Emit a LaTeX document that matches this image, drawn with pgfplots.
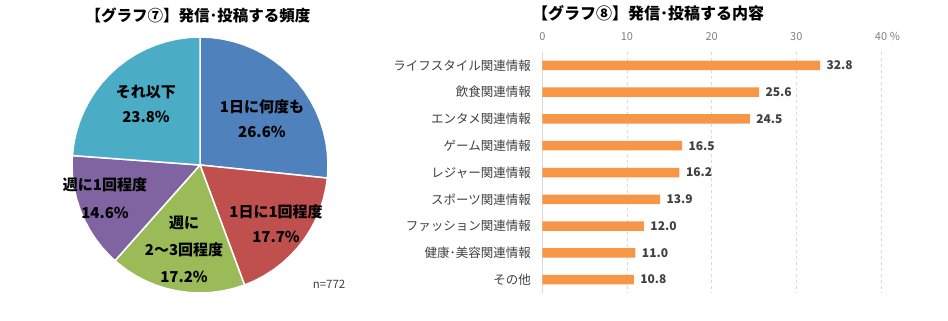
\documentclass[border=0pt]{standalone}
\usepackage{fontspec}
\setmainfont{Noto Sans CJK JP}
\usepackage{pgfplots}
\pgfplotsset{compat=1.18}
\definecolor{cblue}{HTML}{4F81BD}
\definecolor{cred}{HTML}{C0504D}
\definecolor{cgreen}{HTML}{9BBB59}
\definecolor{cpurple}{HTML}{8064A2}
\definecolor{caqua}{HTML}{4BACC6}
\definecolor{corange}{HTML}{F79646}
\definecolor{txt}{HTML}{404040}
\definecolor{ticktxt}{HTML}{7F7F7F}
\definecolor{gridc}{HTML}{D9D9D9}
\pgfplotsset{/pgf/number format/assume math mode=true}
\tikzset{gt/.style={font=\fontsize{15}{#1}\selectfont\bfseries, align=center, text=black}}
\begin{document}
\begin{tikzpicture}
\path[use as bounding box] (0,0) rectangle (948pt,321pt);
% titles
\node[font=\fontsize{15.5}{18}\selectfont\bfseries] at (198pt,306pt) {【グラフ⑦】発信･投稿する頻度};
\node[font=\fontsize{16}{18}\selectfont\bfseries] at (648pt,308pt) {【グラフ⑧】発信･投稿する内容};
% pie
\begin{axis}[at={(200pt,156pt)}, anchor=origin, x=128pt, y=128pt, hide axis,
  xmin=-1, xmax=1, ymin=-1, ymax=1, clip=false]
\addplot[fill=cblue, draw=white, line width=1.5pt, line join=round, data cs=polar] coordinates {
(0,0) (90,1) (85,1) (80,1) (75,1) (70,1) (65,1) (60,1) (55,1) (50,1) (45,1) (40,1) (35,1) (30,1) (25,1) (20,1) (15,1) (10,1) (5,1) (0,1) (-5,1) (-5.86,1) (0,0)};
\addplot[fill=cred, draw=white, line width=1.5pt, line join=round, data cs=polar] coordinates {
(0,0) (-5.86,1) (-10,1) (-15,1) (-20,1) (-25,1) (-30,1) (-35,1) (-40,1) (-45,1) (-50,1) (-55,1) (-60,1) (-65,1) (-69.64,1) (0,0)};
\addplot[fill=cgreen, draw=white, line width=1.5pt, line join=round, data cs=polar] coordinates {
(0,0) (-69.64,1) (-75,1) (-80,1) (-85,1) (-90,1) (-95,1) (-100,1) (-105,1) (-110,1) (-115,1) (-120,1) (-125,1) (-130,1) (-131.62,1) (0,0)};
\addplot[fill=cpurple, draw=white, line width=1.5pt, line join=round, data cs=polar] coordinates {
(0,0) (-131.62,1) (-135,1) (-140,1) (-145,1) (-150,1) (-155,1) (-160,1) (-165,1) (-170,1) (-175,1) (-180,1) (-184.23,1) (0,0)};
\addplot[fill=caqua, draw=white, line width=1.5pt, line join=round, data cs=polar] coordinates {
(0,0) (-184.23,1) (-190,1) (-195,1) (-200,1) (-205,1) (-210,1) (-215,1) (-220,1) (-225,1) (-230,1) (-235,1) (-240,1) (-245,1) (-250,1) (-255,1) (-260,1) (-265,1) (-270,1) (0,0)};
\node[gt=25] at (axis cs:0.484,0.359) {1日に何度も\\26.6\%};
\node[gt=25] at (axis cs:0.594,-0.457) {1日に1回程度\\17.7\%};
\node[gt=27] at (axis cs:-0.125,-0.660) {週に\\2～3回程度\\17.2\%};
\node[gt=28] at (axis cs:-0.742,-0.262) {週に1回程度\\14.6\%};
\node[gt=25] at (axis cs:-0.422,0.473) {それ以下\\23.8\%};
\node[font=\fontsize{11.5}{14}\selectfont, text=txt] at (axis cs:1.008,-0.930) {n=772};
\end{axis}
% bar chart
\begin{axis}[at={(542.3pt,28pt)}, anchor=south west, scale only axis,
  width=338.7pt, height=241pt,
  xbar, bar width=9.5pt,
  xmin=0, xmax=40, ymin=0.5, ymax=9.5, y dir=reverse,
  axis line style={draw=none}, major tick length=0pt,
  xtick={10,20,30,40}, extra x ticks={0},
  extra x tick style={grid style={solid, gridc, line width=0.8pt}},
  xticklabel pos=upper,
  xmajorgrids, grid style={dashed, gridc, line width=0.6pt},
  xticklabel style={font=\fontsize{11}{13}\selectfont, text=ticktxt, yshift=8pt},
  ytick={1,...,9},
  yticklabels={ライフスタイル関連情報,飲食関連情報,エンタメ関連情報,ゲーム関連情報,レジャー関連情報,スポーツ関連情報,ファッション関連情報,健康･美容関連情報,その他},
  yticklabel style={font=\fontsize{12.5}{14}\selectfont, text=txt, xshift=-8pt},
  nodes near coords, point meta=x,
  nodes near coords style={font=\fontsize{12}{14}\selectfont\bfseries, text=txt, anchor=west, xshift=3pt, /pgf/number format/.cd, fixed, precision=1, fixed zerofill},
  clip=false]
\addplot[fill=corange, draw=none] coordinates {
(32.8,1) (25.6,2) (24.5,3) (16.5,4) (16.2,5) (13.9,6) (12.0,7) (11.0,8) (10.8,9)};
\end{axis}
\node[font=\fontsize{11}{13}\selectfont, text=ticktxt] at (895pt,285pt) {\%};
\end{tikzpicture}
\end{document}
